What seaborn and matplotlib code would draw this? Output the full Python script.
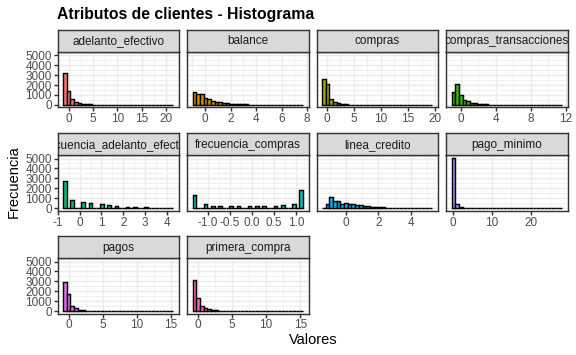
import numpy as np
import pandas as pd
import matplotlib
matplotlib.use("Agg")
import matplotlib.pyplot as plt
import seaborn as sns

plt.rcParams['font.family'] = ['Liberation Sans', 'DejaVu Sans']

title = "Atributos de clientes - Histograma"
x_title = "Valores"
y_title = "Frecuencia"

variables = ["adelanto_efectivo", "balance", "compras", "compras_transacciones",
             "frecuencia_adelanto_efectivo", "frecuencia_compras", "linea_credito",
             "pago_minimo", "pagos", "primera_compra"]

# outer edges of the 30-bin histogram of each variable
bin_lo = [-1.20, -0.98, -0.83, -1.03, -0.76, -1.34, -1.47, -0.42, -0.90, -0.80]
bin_hi = [21.55, 7.67, 19.49, 11.56, 4.30, 1.147, 5.33, 28.0, 15.35, 15.40]

counts_adelanto_efectivo = [3250, 1440, 615, 330, 190, 110, 70, 45, 30, 20, 14, 10, 7, 5, 4,
                            3, 2, 2, 1, 1, 1, 1, 0, 1, 0, 0, 1, 0, 0, 1]
counts_balance = [1300, 1120, 1080, 700, 560, 430, 330, 260, 200, 160, 120, 90, 70, 55, 40,
                  30, 25, 20, 15, 10, 8, 6, 5, 4, 3, 2, 2, 1, 1, 1]
counts_compras = [2560, 2100, 560, 270, 140, 80, 50, 32, 22, 15, 10, 8, 6, 5, 4,
                  3, 2, 2, 1, 1, 1, 1, 1, 0, 1, 0, 0, 0, 0, 1]
counts_compras_transacciones = [1300, 2080, 1000, 540, 340, 230, 150, 100, 70, 50, 35, 25, 18, 12, 9,
                                7, 5, 4, 3, 2, 2, 1, 1, 1, 1, 0, 1, 0, 0, 1]
counts_frecuencia_adelanto_efectivo = [2700, 0, 800, 0, 0, 580, 0, 500, 0, 0, 390, 0, 270, 0, 190,
                                       0, 0, 140, 0, 120, 0, 0, 90, 0, 60, 0, 0, 45, 0, 35]
counts_frecuencia_compras = [1300, 0, 0, 400, 0, 210, 0, 200, 0, 0, 230, 0, 170, 0, 0,
                             230, 0, 220, 0, 220, 0, 0, 200, 0, 300, 0, 0, 400, 0, 1780]
counts_linea_credito = [60, 450, 1080, 720, 700, 470, 480, 460, 400, 330, 290, 240, 200, 150, 140,
                        110, 80, 60, 45, 35, 25, 20, 15, 10, 8, 6, 4, 3, 2, 1]
counts_pago_minimo = [5100, 370, 70, 30, 15, 10, 6, 4, 3, 2, 2, 1, 1, 1, 1,
                      0, 1, 0, 0, 1, 0, 0, 0, 0, 0, 0, 0, 0, 0, 1]
counts_pagos = [2900, 1700, 520, 270, 150, 90, 60, 40, 28, 20, 15, 11, 8, 6, 5,
                4, 3, 2, 2, 1, 1, 1, 1, 1, 0, 1, 0, 0, 0, 1]
counts_primera_compra = [3150, 1330, 560, 360, 200, 120, 75, 50, 35, 25, 18, 13, 10, 8, 6,
                         4, 3, 3, 2, 2, 1, 1, 1, 1, 0, 1, 0, 0, 0, 1]

all_counts = [counts_adelanto_efectivo, counts_balance, counts_compras, counts_compras_transacciones,
              counts_frecuencia_adelanto_efectivo, counts_frecuencia_compras, counts_linea_credito,
              counts_pago_minimo, counts_pagos, counts_primera_compra]

x_breaks = [[0, 5, 10, 15, 20], [0, 2, 4, 6, 8], [0, 5, 10, 15, 20], [0, 4, 8, 12],
            [-1, 0, 1, 2, 3, 4], [-1.0, -0.5, 0.0, 0.5, 1.0], [0, 2, 4], [0, 10, 20],
            [0, 5, 10, 15], [0, 5, 10, 15]]
x_labels = [["0", "5", "10", "15", "20"], ["0", "2", "4", "6", "8"], ["0", "5", "10", "15", "20"],
            ["0", "4", "8", "12"], ["-1", "0", "1", "2", "3", "4"],
            ["-1.0", "-0.5", "0.0", "0.5", "1.0"], ["0", "2", "4"], ["0", "10", "20"],
            ["0", "5", "10", "15"], ["0", "5", "10", "15"]]
y_breaks = [0, 1000, 2000, 3000, 4000, 5000]

palette = ["#F8766D", "#D89000", "#A3A500", "#39B600", "#00BF7D",
           "#00BFC4", "#00B0F6", "#9590FF", "#E76BF3", "#FF62BC"]

# build long table
rows = []
for v, lo, hi, cnts in zip(variables, bin_lo, bin_hi, all_counts):
    edges = np.linspace(lo, hi, 31)
    centers = (edges[:-1] + edges[1:]) / 2
    for c, n in zip(centers, cnts):
        rows.append((v, float(c), float(n)))
df = pd.DataFrame(rows, columns=["variable", "valor", "n"])

W, H = 576, 355
fig = plt.figure(figsize=(W / 72, H / 72), dpi=72)
fig.patch.set_facecolor("white")

col_x = [57.5, 187.0, 316.5, 446.0]
pw = 121.5
row_top = [51.7, 155.0, 258.0]
ph = 55.7
sh = 22.0

S = 96 / 72  # ggplot points rendered at 96 dpi
ymax = max(max(c) for c in all_counts)
ylim = (-0.05 * ymax, 1.05 * ymax)
border = "#333333"
grid_c = "#EBEBEB"
lw = 1.07 * S
fs_axis = 8.8 * S
fs_title_ax = 11 * S

for i, v in enumerate(variables):
    r, c = divmod(i, 4)
    x0, y0 = col_x[c], row_top[r]
    ax = fig.add_axes([x0 / W, 1 - (y0 + ph) / H, pw / W, ph / H])
    sub = df[df["variable"] == v].reset_index(drop=True)
    edges = [float(e) for e in np.linspace(bin_lo[i], bin_hi[i], 31)]
    sns.histplot(data=sub, x="valor", weights="n", bins=edges, ax=ax,
                 color=palette[i], edgecolor="black", linewidth=lw, alpha=1)
    span = bin_hi[i] - bin_lo[i]
    xl = (bin_lo[i] - 0.05 * span, bin_hi[i] + 0.05 * span)
    ax.set_xlim(xl)
    ax.set_ylim(ylim)
    br = x_breaks[i]
    step = br[1] - br[0]
    mids = [b + step / 2 for b in ([br[0] - step] + br)]
    mids = [m for m in mids if xl[0] <= m <= xl[1]]
    ax.set_xticks(br)
    ax.set_xticklabels(x_labels[i])
    ax.set_xticks(mids, minor=True)
    ax.set_yticks(y_breaks)
    ax.set_yticks([500, 1500, 2500, 3500, 4500], minor=True)
    ax.set_facecolor("white")
    ax.grid(which="major", color=grid_c, linewidth=lw)
    ax.grid(which="minor", color=grid_c, linewidth=lw / 2)
    ax.set_axisbelow(True)
    for s in ax.spines.values():
        s.set_color(border)
        s.set_linewidth(lw)
    ax.tick_params(which="major", direction="out", length=2.75 * S, width=lw, color=border,
                   labelcolor="#4D4D4D", labelsize=fs_axis, pad=1.6 * S)
    ax.tick_params(which="minor", length=0)
    if c != 0:
        ax.tick_params(axis="y", which="major", labelleft=False, length=0)
    ax.set_xlabel("")
    ax.set_ylabel("")

    # strip
    sa = fig.add_axes([x0 / W, 1 - y0 / H, pw / W, sh / H])
    sa.set_facecolor("#D9D9D9")
    sa.set_xticks([])
    sa.set_yticks([])
    for s in sa.spines.values():
        s.set_color(border)
        s.set_linewidth(lw)
    t = sa.text(0.5, 0.47, v, ha="center", va="center", fontsize=fs_axis, color="#1A1A1A",
                transform=sa.transAxes)
    t.set_clip_on(True)

fig.text(57.0 / W, 1 - 14 / H, title, fontsize=15.8, fontweight="bold", ha="left", va="center")
fig.text(313 / W, 1 - 340 / H, x_title, fontsize=fs_title_ax, ha="center", va="center")
fig.text(14 / W, 1 - 182 / H, y_title, fontsize=fs_title_ax, ha="center", va="center", rotation=90)

fig.savefig("out.png", dpi=72, facecolor="white")
